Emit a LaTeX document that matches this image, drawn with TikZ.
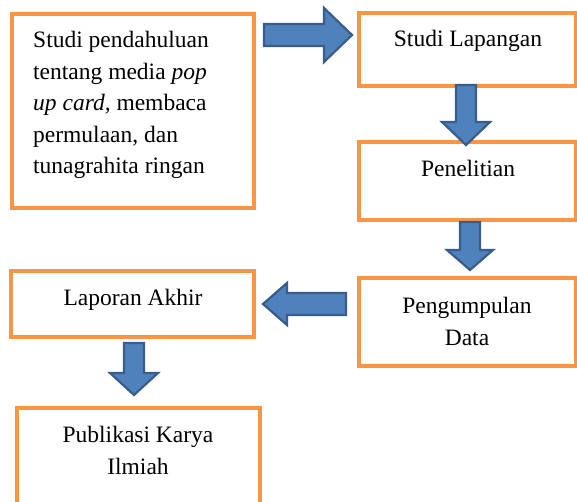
\documentclass[tikz,border=0pt]{standalone}
\usepackage{fontspec}
\setmainfont{Liberation Serif}
\usetikzlibrary{calc}
\definecolor{boxorange}{HTML}{F79646}
\definecolor{arrowfill}{HTML}{4F81BD}
\definecolor{arrowline}{HTML}{385D8A}
\tikzset{
  box/.style={draw=boxorange, line width=4pt, fill=white, inner sep=0pt},
  lbl/.style={inner sep=0pt, font=\fontsize{23.5}{31.5}\selectfont},
  arrowstyle/.style={draw=arrowline, fill=arrowfill, line width=2.2pt, line join=miter},
  pics/barrow/.style n args={4}{code={
    \draw[arrowstyle] (0,-#3) -- (#1-#2,-#3) -- (#1-#2,-#4) -- (#1,0) -- (#1-#2,#4) -- (#1-#2,#3) -- (0,#3) -- cycle;
  }}
}
\begin{document}
\begin{tikzpicture}[x=1pt,y=-1pt]
\useasboundingbox (0,0) rectangle (577,502);
\clip (0,0) rectangle (577,502);
\fill[white] (0,0) rectangle (577,502);
% boxes
\node[box, minimum width=242pt, minimum height=194pt] (b1) at (133,111) {};
\node[box, minimum width=217pt, minimum height=73pt] (b2) at (467.5,49.5) {};
\node[box, minimum width=217pt, minimum height=78pt] (b3) at (467.5,181) {};
\node[box, minimum width=217pt, minimum height=88pt] (b4) at (467.5,322) {};
\node[box, minimum width=243pt, minimum height=66pt] (b5) at (132.5,304) {};
\node[box, minimum width=243pt, minimum height=112pt] (b6) at (138.5,464) {};
% texts
\node[lbl, anchor=north west, align=left] (t1) at (33,31)
  {Studi pendahuluan\\tentang media \textit{pop}\\\textit{up card,} membaca\\permulaan, dan\\tunagrahita ringan};
\node[lbl, anchor=base] (t2) at (468,47) {Studi Lapangan};
\node[lbl, anchor=base] (t3) at (468,177) {Penelitian};
\node[lbl, anchor=north, align=center] (t4) at (467,297) {Pengumpulan\\Data};
\node[lbl, anchor=base] (t5) at (133,305) {Laporan Akhir};
\node[lbl, anchor=north, align=center] (t6) at (138,426) {Publikasi Karya\\Ilmiah};
% block arrows
\pic at (264,35) {barrow={88}{28}{11}{27}};
\pic[rotate=-90] at (466,85) {barrow={60}{23}{10}{24}};
\pic[rotate=-90] at (470,222) {barrow={48}{20}{10}{23}};
\pic[rotate=180] at (346,304) {barrow={83}{24}{11}{21}};
\pic[rotate=-90] at (134,343) {barrow={52}{22}{10}{24}};
\end{tikzpicture}
\end{document}
